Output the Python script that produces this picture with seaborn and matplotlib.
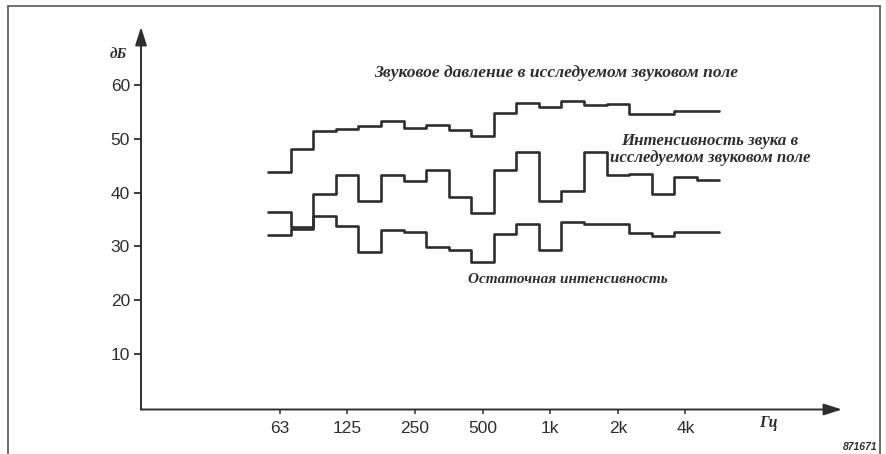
import numpy as np
import pandas as pd
import seaborn as sns
import matplotlib
matplotlib.use('Agg')
import matplotlib.pyplot as plt
from matplotlib.lines import Line2D

# third-octave bands, 63 Hz ... 5 kHz
bands = ['63', '80', '100', '125', '160', '200', '250', '315', '400', '500',
         '630', '800', '1k', '1.25k', '1.6k', '2k', '2.5k', '3.15k', '4k', '5k']

# levels, dB
pressure = [43.9, 48.1, 51.4, 51.9, 52.4, 53.4, 52.0, 52.5, 51.7, 50.5,
            54.8, 56.6, 56.0, 57.1, 56.3, 56.5, 54.6, 54.6, 55.1, 55.1]
intensity = [36.4, 33.6, 39.8, 43.2, 38.4, 43.2, 42.1, 44.3, 39.2, 36.2,
             44.2, 47.5, 38.4, 40.4, 47.5, 43.2, 43.5, 39.8, 42.9, 42.4]
residual = [32.1, 33.3, 35.6, 33.9, 29.0, 33.0, 32.7, 29.9, 29.3, 27.2,
            32.4, 34.1, 29.3, 34.6, 34.1, 34.1, 32.5, 32.0, 32.7, 32.7]

tick_bands = ['63', '125', '250', '500', '1k', '2k', '4k']
y_ticks = [10, 20, 30, 40, 50, 60]

sns.set_style('white')
plt.rcParams['font.family'] = ['Liberation Sans', 'DejaVu Sans']

ink = '#2e2e2e'
W, H = 886, 454

# one step per band: edges at i-0.5 .. n-0.5
rows = []
for name, vals in [('pressure', pressure), ('intensity', intensity), ('residual', residual)]:
    edges = np.arange(len(bands) + 1) - 0.5
    for x, y in zip(edges, list(vals) + [vals[-1]]):
        rows.append({'series': name, 'pos': x, 'dB': y})
df = pd.DataFrame(rows)

fig = plt.figure(figsize=(W / 100, H / 100), dpi=100)
ax = fig.add_axes([141 / W, (H - 409.5) / H, (842 - 141) / W, (409.5 - 27) / H])

sns.lineplot(data=df, x='pos', y='dB', units='series', estimator=None, sort=False,
             drawstyle='steps-post', color=ink, lw=1.9, ax=ax)

ax.set_xlim(-6.142, 24.94)
ax.set_ylim(-0.3, 70.8)
for s in ax.spines.values():
    s.set_visible(False)

# axes with arrows
arrow = dict(arrowstyle='-|>,head_length=1.1,head_width=0.35', color=ink, lw=1.4,
             shrinkA=0, shrinkB=0, mutation_scale=10)
ax.annotate('', xy=(0, 1), xytext=(0, 0), xycoords='axes fraction', arrowprops=arrow)
ax.annotate('', xy=(1, 0), xytext=(0, 0), xycoords='axes fraction', arrowprops=arrow)

ax.set_xticks([bands.index(b) for b in tick_bands])
ax.set_xticklabels(tick_bands)
ax.set_yticks(y_ticks)
ax.set_yticklabels([str(v) for v in y_ticks])
ax.tick_params(axis='y', direction='out', length=5, width=1.3, color=ink, pad=3,
               labelsize=12.5, labelcolor=ink, left=True)
ax.tick_params(axis='x', direction='out', length=3, width=1.1, color=ink, pad=5,
               labelsize=12.5, labelcolor=ink, bottom=True)
ax.set_xlabel('')
ax.set_ylabel('')

note = dict(family=['Liberation Serif', 'DejaVu Serif'], style='italic', weight='bold',
            color=ink, ha='center', va='center')
ax.text(12.26, 62.2, 'Звуковое давление в исследуемом звуковом поле', fontsize=12.6, **note)
ax.text(19.09, 48.1, 'Интенсивность звука в\nисследуемом звуковом поле', fontsize=12.2,
        linespacing=1.1, **note)
ax.text(12.79, 23.8, 'Остаточная интенсивность', fontsize=11, **note)
ax.text(21.66, -2.8, 'Гц', fontsize=11.5, **note)
fig.text(118 / W, 1 - 55 / H, 'дБ', fontsize=11, **note)
fig.text(877 / W, 1 - 447 / H, '871671', family=['Liberation Sans', 'DejaVu Sans'],
         style='italic', weight='bold', fontsize=7.5, color=ink, ha='right', va='center')

# frame round the figure
for xs, ys in [([8, 8], [6, H]), ([8, 880], [6, 6]), ([880, 880], [6, H])]:
    fig.add_artist(Line2D([x / W for x in xs], [1 - y / H for y in ys],
                          color='#555555', lw=1.2))

fig.savefig('out.png', dpi=100, facecolor='white')
